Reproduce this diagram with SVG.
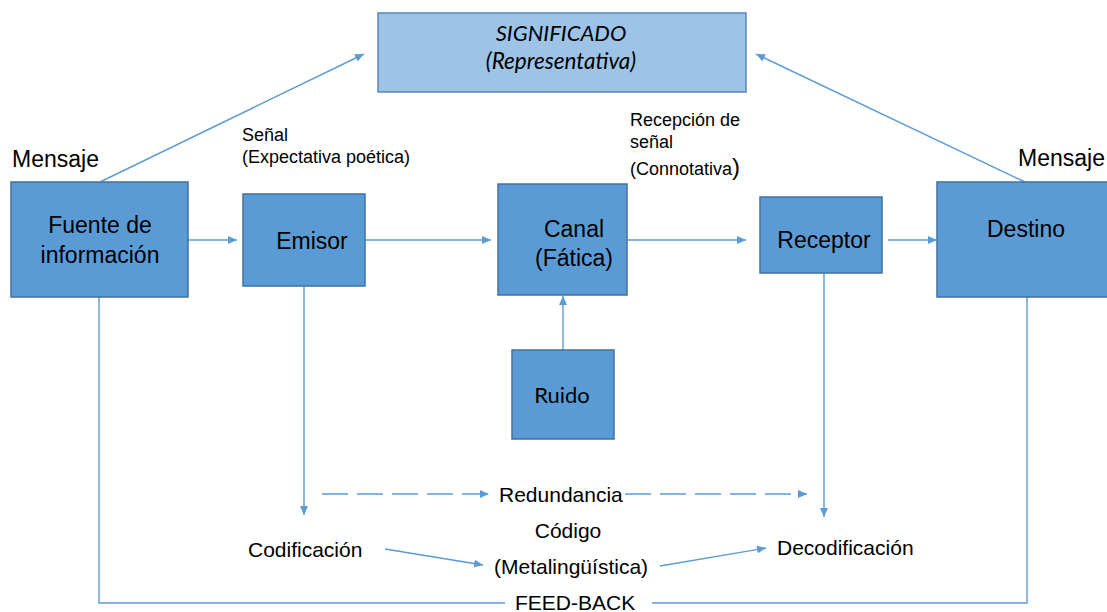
<svg xmlns="http://www.w3.org/2000/svg" width="1107" height="612" viewBox="0 0 1107 612">
<style>
.box{fill:#5B9BD5;stroke:#41719C;stroke-width:1.5}
.sig{fill:#9DC3E6;stroke:#5A87B8;stroke-width:1.5}
.t{font-family:"Liberation Sans",Arial,sans-serif;fill:#000}
.c{font-family:Lato,"Open Sans",sans-serif;fill:#000}
.big{font-size:23px}
.mid{font-size:21px}
.sm{font-size:18px}
.ln{stroke:#5B9BD5;stroke-width:1.4;fill:none}
.ar{marker-end:url(#ah)}
.dash{stroke-dasharray:26 9}
</style>
<defs>
<marker id="ah" markerUnits="userSpaceOnUse" markerWidth="10" markerHeight="8" refX="9" refY="4" orient="auto">
<path d="M0,0 L9,4 L0,8 z" fill="#5B9BD5"/>
</marker>
</defs>
<g id="connectors">
<line class="ln ar" x1="188" y1="240" x2="237" y2="240"/>
<line class="ln ar" x1="365" y1="240" x2="491" y2="240"/>
<line class="ln ar" x1="627" y1="240" x2="746" y2="240"/>
<line class="ln ar" x1="888" y1="240" x2="937" y2="240"/>
<line class="ln ar" x1="100" y1="182" x2="364" y2="54"/>
<line class="ln ar" x1="1025" y1="182" x2="756" y2="54"/>
<line class="ln ar" x1="563" y1="350" x2="563" y2="296"/>
<line class="ln ar" x1="304" y1="286" x2="304" y2="515"/>
<line class="ln ar" x1="824" y1="273" x2="824" y2="517"/>
<line class="ln dash ar" x1="322" y1="494" x2="489" y2="494"/>
<line class="ln dash ar" x1="625" y1="494" x2="807" y2="494"/>
<line class="ln ar" x1="385" y1="549" x2="483" y2="565"/>
<line class="ln ar" x1="660" y1="566" x2="766" y2="548"/>
<polyline class="ln" points="99,297 99,603 505,603"/>
<polyline class="ln" points="652,603 1027,603 1027,297"/>
</g>
<g id="significado">
<rect class="sig" x="378" y="13" width="368" height="79"/>
<text class="c" x="561" y="41" font-size="22" font-style="italic" text-anchor="middle">SIGNIFICADO</text>
<text class="c" x="561" y="69" font-size="22.5" font-style="italic" text-anchor="middle">(Representativa)</text>
</g>
<g id="fuente">
<rect class="box" x="11" y="182" width="177" height="115"/>
<text class="t big" x="100" y="233" text-anchor="middle">Fuente de</text>
<text class="t big" x="100" y="263" text-anchor="middle">información</text>
</g>
<g id="emisor">
<rect class="box" x="243" y="194" width="122" height="92"/>
<text class="t big" x="312" y="249" text-anchor="middle">Emisor</text>
</g>
<g id="canal">
<rect class="box" x="498" y="184" width="129" height="111"/>
<text class="t big" x="574" y="237" text-anchor="middle">Canal</text>
<text class="t big" x="574" y="266" text-anchor="middle">(Fática)</text>
</g>
<g id="receptor">
<rect class="box" x="760" y="197" width="122" height="76"/>
<text class="t big" x="824" y="248" text-anchor="middle">Receptor</text>
</g>
<g id="destino">
<rect class="box" x="937" y="182" width="175" height="115"/>
<text class="t big" x="1026" y="237" text-anchor="middle">Destino</text>
</g>
<g id="ruido">
<rect class="box" x="512" y="350" width="102" height="89"/>
<text class="c" x="562" y="403" font-size="22" text-anchor="middle">Ruido</text>
</g>
<g id="labels">
<text class="t big" x="12" y="167">Mensaje</text>
<text class="t big" x="1018" y="166">Mensaje</text>
<text class="t sm" x="242" y="141">Señal</text>
<text class="t sm" x="242" y="163">(Expectativa poética)</text>
<text class="t sm" x="630" y="126">Recepción de</text>
<text class="t sm" x="630" y="148">señal</text>
<text class="t sm" x="630" y="175">(Connotativa<tspan font-size="24">)</tspan></text>
<text class="t mid" x="499" y="502">Redundancia</text>
<text class="t mid" x="568" y="538" text-anchor="middle">Código</text>
<text class="t mid" x="248" y="557">Codificación</text>
<text class="t mid" x="494" y="574">(Metalingüística)</text>
<text class="t mid" x="777" y="555">Decodificación</text>
<text class="t mid" x="515" y="610">FEED-BACK</text>
</g>
</svg>
